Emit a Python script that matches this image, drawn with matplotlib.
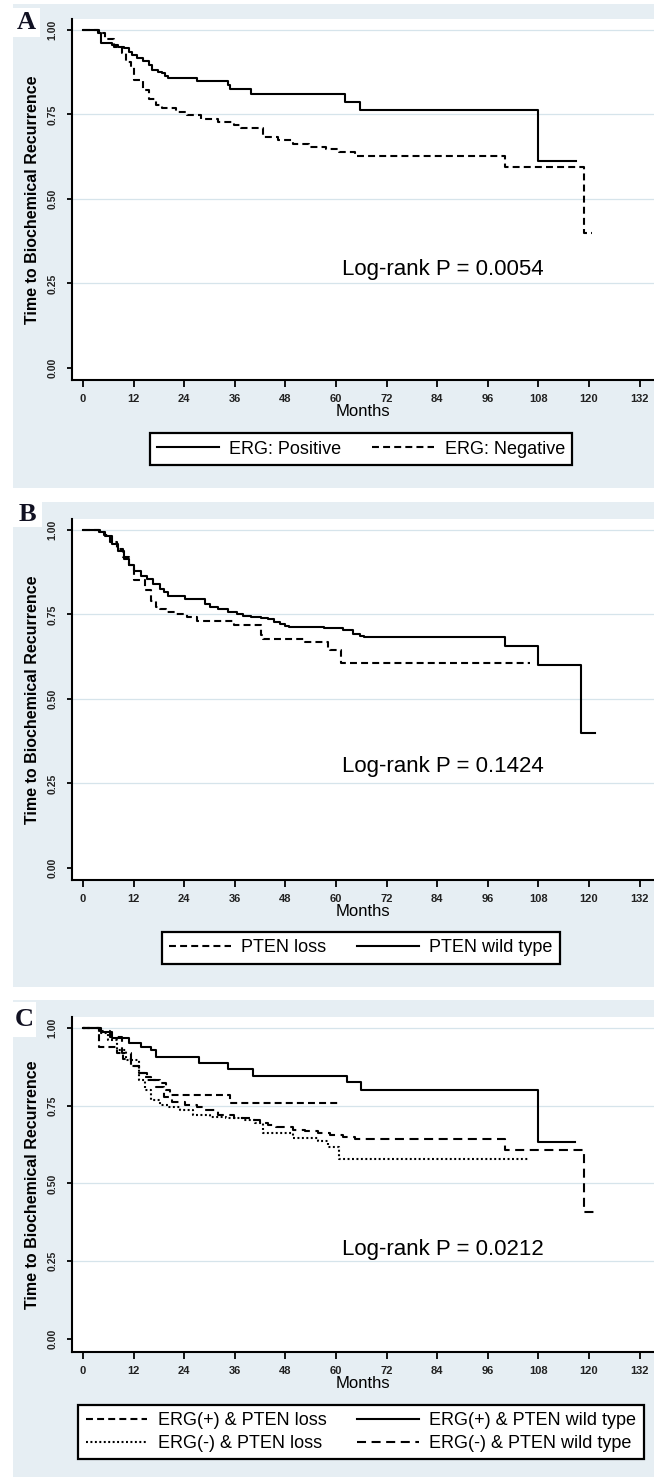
import matplotlib
matplotlib.use("Agg")
import matplotlib.pyplot as plt
from matplotlib.patches import Rectangle

plt.rcParams['font.family'] = ['Liberation Sans', 'DejaVu Sans']
plt.rcParams['lines.scale_dashes'] = False

# ---- data (months, survival after each step) ----
a_pos_time = [0, 3.6, 4.3, 6.8, 8.3, 9.8, 10.8, 11.7, 12.7, 14.2, 15.7, 16.4, 17.7, 18.7, 19.4, 20.1,
              27.0, 34.5, 34.9, 39.9, 62.1, 65.7, 108.0]
a_pos_surv = [1.0, 0.99, 0.962, 0.956, 0.951, 0.946, 0.936, 0.926, 0.916, 0.908, 0.896, 0.881, 0.876,
              0.872, 0.865, 0.857, 0.850, 0.837, 0.824, 0.812, 0.788, 0.763, 0.612]
a_pos_end = 116.9

a_neg_time = [0, 3.8, 5.3, 7.3, 9.3, 10.3, 11.3, 12.2, 14.2, 15.7, 17.2, 18.7, 22.1, 24.6, 28.0, 32.0,
              35.9, 37.4, 42.8, 46.3, 49.8, 53.7, 57.7, 60.6, 64.6, 100.1, 118.9]
a_neg_surv = [1.0, 0.99, 0.972, 0.951, 0.931, 0.906, 0.891, 0.852, 0.822, 0.797, 0.778, 0.768, 0.758,
              0.748, 0.738, 0.728, 0.718, 0.709, 0.684, 0.674, 0.664, 0.654, 0.649, 0.639, 0.627,
              0.595, 0.40]
a_neg_end = 120.6

b_wt_time = [0, 3.85, 5.3, 6.8, 8.3, 9.8, 10.8, 12.2, 13.7, 15.2, 16.7, 18.2, 19.2, 20.1, 24.1, 29.0,
             30.2, 32.0, 34.5, 36.4, 37.9, 39.9, 42.3, 43.8, 45.3, 46.8, 47.8, 48.8, 57.1, 61.6, 64.1,
             65.6, 66.6, 100.1, 108.0, 118.0]
b_wt_surv = [1.0, 0.995, 0.983, 0.959, 0.939, 0.914, 0.895, 0.880, 0.865, 0.855, 0.841, 0.826, 0.816,
             0.806, 0.796, 0.781, 0.772, 0.767, 0.757, 0.750, 0.747, 0.744, 0.740, 0.737, 0.729, 0.723,
             0.715, 0.712, 0.709, 0.703, 0.693, 0.685, 0.683, 0.658, 0.602, 0.40]
b_wt_end = 121.3

b_loss_time = [0, 4.0, 5.0, 6.5, 8.0, 9.5, 11.0, 12.2, 14.7, 16.2, 17.2, 18.2, 19.6, 22.1, 24.6, 27.0,
               35.9, 42.3, 42.8, 52.7, 58.1, 58.6, 61.1]
b_loss_surv = [1.0, 0.995, 0.985, 0.965, 0.945, 0.92, 0.895, 0.852, 0.821, 0.791, 0.772, 0.767, 0.757,
               0.750, 0.744, 0.732, 0.718, 0.688, 0.678, 0.668, 0.649, 0.644, 0.606]
b_loss_end = 106.0

c_pos_wt_time = [0, 4.3, 6.8, 10.8, 13.7, 16.2, 17.4, 27.5, 34.5, 40.4, 62.6, 66.0, 108.0]
c_pos_wt_surv = [1.0, 0.988, 0.967, 0.951, 0.938, 0.929, 0.908, 0.888, 0.867, 0.845, 0.827, 0.800, 0.634]
c_pos_wt_end = 116.7

c_pos_loss_time = [0, 3.7, 8.0, 9.5, 11.3, 13.2, 14.7, 16.2, 18.2, 19.6, 20.6, 34.9]
c_pos_loss_surv = [1.0, 0.94, 0.92, 0.90, 0.876, 0.855, 0.843, 0.832, 0.822, 0.800, 0.784, 0.758]
c_pos_loss_end = 60.6

c_neg_loss_time = [0, 3.85, 6.0, 8.0, 10.3, 13.2, 14.7, 16.2, 18.2, 20.1, 23.1, 26.1, 30.0, 34.0, 37.9,
                   40.9, 42.8, 49.8, 55.7, 58.1, 60.6]
c_neg_loss_surv = [1.0, 0.985, 0.96, 0.93, 0.897, 0.833, 0.800, 0.768, 0.752, 0.747, 0.736, 0.720, 0.715,
                   0.709, 0.704, 0.693, 0.661, 0.645, 0.637, 0.618, 0.580]
c_neg_loss_end = 105.5

c_neg_wt_time = [0, 4.0, 6.3, 9.3, 11.3, 13.2, 15.2, 17.2, 19.2, 21.1, 24.1, 27.0, 29.0, 32.0, 35.9, 39.9,
                 41.9, 43.8, 45.8, 49.8, 52.7, 55.7, 58.6, 61.6, 64.6, 100.1, 118.9]
c_neg_wt_surv = [1.0, 0.99, 0.972, 0.918, 0.876, 0.854, 0.833, 0.811, 0.779, 0.763, 0.752, 0.747, 0.736,
                 0.720, 0.709, 0.704, 0.693, 0.688, 0.682, 0.672, 0.667, 0.661, 0.656, 0.650, 0.643,
                 0.609, 0.409]
c_neg_wt_end = 121.3

x_ticks = [0, 12, 24, 36, 48, 60, 72, 84, 96, 108, 120, 132]
y_ticks = [0.0, 0.25, 0.5, 0.75, 1.0]
y_title = 'Time to Biochemical Recurrence'
x_title = 'Months'
panel_letters = ['A', 'B', 'C']
pvalues = ['Log-rank P = 0.0054', 'Log-rank P = 0.1424', 'Log-rank P = 0.0212']

# ---- styles ----
W, H = 654, 1477
BG = '#e6eef3'
GRID = '#d6e4eb'
SOLID = dict(color='black', lw=1.5, linestyle='-')
DASH = dict(color='black', lw=1.5, dashes=(5, 3))
DOT = dict(color='black', lw=1.5, dashes=(1.4, 1.8))
LDASH = dict(color='black', lw=1.5, dashes=(6.5, 4))

fig = plt.figure(figsize=(W / 100, H / 100), dpi=100)
fig.patch.set_facecolor('white')


def fx(px):
    return px / W


def fy(py):
    return 1 - py / H


# panel pixel layout: bg top/bottom, axes top/bottom, letter box, legend centre y, p-text y
layout = [
    (4, 488, 19, 380, (13, 8, 40, 37), 449, 0.29),
    (502, 987, 519, 880, (13, 502, 42, 527), 948, 0.30),
    (1000, 1477, 1017, 1352, (13, 1002, 36, 1037), 1432, 0.286),
]
ylims = [(-0.0355, 1.0325), (-0.0355, 1.0325), (-0.042, 1.035)]
ax_left, ax_right = 72, 654

series = [
    [(a_pos_time, a_pos_surv, a_pos_end, 'ERG: Positive', SOLID),
     (a_neg_time, a_neg_surv, a_neg_end, 'ERG: Negative', DASH)],
    [(b_loss_time, b_loss_surv, b_loss_end, 'PTEN loss', DASH),
     (b_wt_time, b_wt_surv, b_wt_end, 'PTEN wild type', SOLID)],
    [(c_pos_loss_time, c_pos_loss_surv, c_pos_loss_end, 'ERG(+) & PTEN loss', DASH),
     (c_neg_loss_time, c_neg_loss_surv, c_neg_loss_end, 'ERG(-) & PTEN loss', DOT),
     (c_pos_wt_time, c_pos_wt_surv, c_pos_wt_end, 'ERG(+) & PTEN wild type', SOLID),
     (c_neg_wt_time, c_neg_wt_surv, c_neg_wt_end, 'ERG(-) & PTEN wild type', LDASH)],
]

for i, (bt, bb, at, ab, lbox, leg_y, ptext_y) in enumerate(layout):
    # panel background
    fig.patches.append(Rectangle((fx(13), fy(bb)), fx(W) - fx(13), fy(bt) - fy(bb),
                                 transform=fig.transFigure, facecolor=BG, edgecolor='none', zorder=-10))
    # letter box
    lx0, ly0, lx1, ly1 = lbox
    fig.patches.append(Rectangle((fx(lx0), fy(ly1)), fx(lx1) - fx(lx0), fy(ly0) - fy(ly1),
                                 transform=fig.transFigure, facecolor='white', edgecolor='none', zorder=-5))
    fig.text(fx((lx0 + lx1) / 2), fy((ly0 + ly1) / 2), panel_letters[i], fontsize=19, fontweight='bold',
             family='Liberation Serif', color='#111122', ha='center', va='center')

    ax = fig.add_axes([fx(ax_left), fy(ab), fx(ax_right) - fx(ax_left), fy(at) - fy(ab)])
    ax.set_facecolor('white')
    for yv in y_ticks[1:]:
        ax.axhline(yv, color=GRID, lw=0.9, zorder=0)

    handles = []
    for t, s, end, lab, style in series[i]:
        ln, = ax.step(t + [end], s + [s[-1]], where='post', label=lab, **style)
        handles.append(ln)

    ax.set_xlim(-2.61, 135.4)
    ax.set_ylim(*ylims[i])
    ax.set_xticks(x_ticks)
    ax.set_xticklabels([str(v) for v in x_ticks], fontsize=8, fontweight='bold', color='#222222')
    ax.set_yticks(y_ticks)
    ax.set_yticklabels(['%.2f' % v for v in y_ticks], fontsize=7.5, fontweight='bold', color='#222222',
                       rotation=90, va='center')
    ax.tick_params(axis='x', direction='out', length=5, width=1.3, pad=5)
    ax.tick_params(axis='y', direction='out', length=3.5, width=1.3, pad=7)
    for side in ['top', 'right']:
        ax.spines[side].set_visible(False)
    for side in ['left', 'bottom']:
        ax.spines[side].set_linewidth(1.5)

    ax.set_xlabel(x_title, fontsize=12, va='center')
    ax.xaxis.set_label_coords(0.5, -31 / (ab - at))
    ax.set_ylabel(y_title, fontsize=11.5, fontweight='bold', va='center')
    ax.yaxis.set_label_coords((33 - ax_left) / (ax_right - ax_left), 0.5)

    ax.text(61.5, ptext_y, pvalues[i], fontsize=16, ha='left', va='center')

    leg = ax.legend(handles=handles, ncol=2, loc='center',
                    bbox_to_anchor=(fx(361), fy(leg_y)), bbox_transform=fig.transFigure,
                    fontsize=13, handlelength=3.4, handletextpad=0.6, columnspacing=1.7,
                    labelspacing=0.35, borderpad=0.4, fancybox=False, framealpha=1,
                    edgecolor='black')
    leg.get_frame().set_linewidth(1.6)

fig.savefig('out.png', dpi=100)
